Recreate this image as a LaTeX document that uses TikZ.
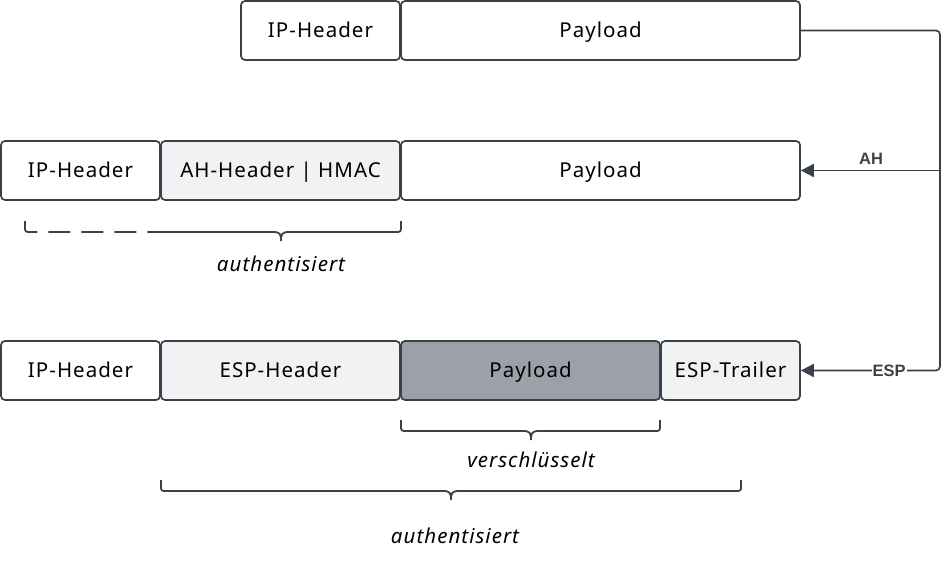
\documentclass[tikz,border=0pt]{standalone}
\usepackage{fontspec}
\setmainfont{Noto Sans}[LetterSpace=5]
\newfontfamily\lblfont{Liberation Sans}
\usetikzlibrary{arrows.meta}
\definecolor{edge}{HTML}{3B4049}
\definecolor{light}{HTML}{F1F2F4}
\definecolor{dark}{HTML}{9CA1A9}
\begin{document}
\begin{tikzpicture}[x=1pt,y=-1pt,
  box/.style={draw=edge, line width=1.7pt, rounded corners=4pt, minimum height=59pt, inner sep=0pt, font=\fontsize{20.5}{24}\selectfont, text=black, text height=14.6pt, text depth=0pt},
  lightbox/.style={box, fill=light},
  darkbox/.style={box, fill=dark},
  conn/.style={draw=edge, line width=1.7pt, rounded corners=4pt},
  tip/.style={-{Triangle[length=13pt,width=13pt]}},
  brace/.style={draw=edge, line width=1.8pt},
  lbl/.style={font=\lblfont\fontsize{16.5}{19}\selectfont\bfseries, text=edge, inner sep=1pt},
  note/.style={font=\fontsize{20.5}{24}\selectfont\itshape, text=black}]
\useasboundingbox (0,0) rectangle (941,575);
% row 1
\node[box, minimum width=159pt] (r1ip) at (320.5,30.5) {IP-Header};
\node[box, minimum width=399pt] (r1pay) at (600.5,30.5) {Payload};
% row 2
\node[box, minimum width=159pt] (r2ip) at (80.5,170.5) {IP-Header};
\node[lightbox, minimum width=239pt] (r2ah) at (280.5,170.5) {AH-Header | HMAC};
\node[box, minimum width=399pt] (r2pay) at (600.5,170.5) {Payload};
% row 3
\node[box, minimum width=159pt] (r3ip) at (80.5,370.5) {IP-Header};
\node[lightbox, minimum width=239pt] (r3esp) at (280.5,370.5) {ESP-Header};
\node[darkbox, minimum width=259pt] (r3pay) at (530.5,370.5) {Payload};
\node[lightbox, minimum width=139pt] (r3tr) at (730.5,370.5) {ESP-Trailer};
% connectors
\coordinate (c1) at (940,30.5);
\coordinate (c2) at (940,370.5);
\coordinate (c3) at (940,170.5);
\draw[conn, tip] (r1pay.east) -- (c1) -- (c2) -- (r3tr.east);
\draw[conn, tip] (c3) -- (r2pay.east);
\node[lbl, anchor=south] (lah) at (871,166) {AH};
\node[lbl, fill=white] (lesp) at (889,370.5) {ESP};
% brace row 2
\draw[brace, dash pattern=on 22pt off 11pt] (25,221) -- (25,226) .. controls (25,232) .. (31,232) -- (160,232);
\draw[brace] (160,232) -- (273,232) .. controls (280,232) and (281,234) .. (281,241)
  .. controls (281,234) and (282,232) .. (289,232) -- (395,232) .. controls (401,232) .. (401,226) -- (401,221);
\node[note] (n1) at (281,264) {authentisiert};
% brace row 3 (encrypted)
\draw[brace] (401,420) -- (401,425) .. controls (401,431) .. (407,431) -- (523,431) .. controls (530,431) and (531,433) .. (531,440)
  .. controls (531,433) and (532,431) .. (539,431) -- (654,431) .. controls (660,431) .. (660,425) -- (660,420);
\node[note] (n2) at (531,460) {verschlüsselt};
% brace row 3 (authenticated)
\draw[brace] (161,480) -- (161,485) .. controls (161,491) .. (167,491) -- (443,491) .. controls (450,491) and (451,493) .. (451,500)
  .. controls (451,493) and (452,491) .. (459,491) -- (735,491) .. controls (741,491) .. (741,485) -- (741,480);
\node[note] (n3) at (455,536) {authentisiert};
\end{tikzpicture}
\end{document}
